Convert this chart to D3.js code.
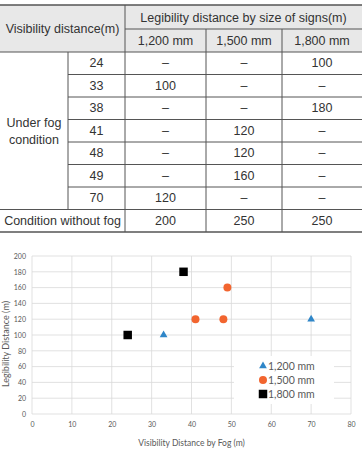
<!DOCTYPE html>
<html>
<head>
<meta charset="utf-8">
<script src="https://cdn.jsdelivr.net/npm/d3@7"></script>
<style>
    body { margin: 0; background: #fff; }
    svg { display: block; }
</style>
</head>
<body>
<div id="vis"></div>
<script>
const visibility = [24, 33, 38, 41, 48, 49, 70];
const signSizes = ['1,200 mm', '1,500 mm', '1,800 mm'];
const legib1200 = [null, 100, null, null, null, null, 120];
const legib1500 = [null, null, null, 120, 120, 160, null];
const legib1800 = [100, null, 180, null, null, null, null];
const noFog = [200, 250, 250];
const xTicks = [0, 10, 20, 30, 40, 50, 60, 70, 80];
const yTicks = [0, 20, 40, 60, 80, 100, 120, 140, 160, 180, 200];

class SignChart{
    constructor(){
        this.width = 362;
        this.height = 449;
        this.series = [legib1200, legib1500, legib1800];
        this.colors = ['#2f86c8', '#f2652f', '#000000'];

        this.svg = d3.select('#vis')
            .append('svg')
            .attr('width', this.width)
            .attr('height', this.height);
    }

    drawTable(){
        let g = this.svg.append('g').attr('id', 'tableG');
        let font = 'Liberation Sans, Arial, sans-serif';
        let lineCol = '#555';

        // column edges and row edges
        let cols = [0, 68, 125, 206, 282, 362];
        let top = 5, mid = 29, headBottom = 52, rowH = 22.5;
        let rowY = i => headBottom + i * rowH;

        g.append('rect')
            .attr('x', 0).attr('y', top)
            .attr('width', this.width).attr('height', headBottom - top)
            .attr('fill', '#e8e8e8');

        let line = (x1, y1, x2, y2, w) => g.append('line')
            .attr('x1', x1).attr('y1', y1).attr('x2', x2).attr('y2', y2)
            .attr('stroke', lineCol).attr('stroke-width', w || 1);

        line(0, top, this.width, top, 1.5);
        line(cols[2], mid, this.width, mid);
        line(0, headBottom, this.width, headBottom);
        visibility.forEach((v, i) => { if (i > 0) line(cols[1], rowY(i), this.width, rowY(i)); });
        line(0, rowY(visibility.length), this.width, rowY(visibility.length));
        line(0, rowY(visibility.length + 1), this.width, rowY(visibility.length + 1), 1.5);

        line(cols[1], headBottom, cols[1], rowY(visibility.length));
        line(cols[2], top, cols[2], rowY(visibility.length + 1));
        line(cols[3], mid, cols[3], rowY(visibility.length + 1));
        line(cols[4], mid, cols[4], rowY(visibility.length + 1));

        let text = (x, y, s) => g.append('text')
            .attr('x', x).attr('y', y)
            .attr('text-anchor', 'middle')
            .attr('dominant-baseline', 'central')
            .style('font-family', font)
            .style('font-size', '12.5px')
            .style('fill', '#333')
            .text(s);

        text((cols[0] + cols[2]) / 2, (top + headBottom) / 2, 'Visibility distance(m)');
        text((cols[2] + cols[5]) / 2, (top + mid) / 2 + 1, 'Legibility distance by size of signs(m)');
        signSizes.forEach((s, j) => text((cols[j + 2] + cols[j + 3]) / 2, (mid + headBottom) / 2, s));

        let midBlock = (rowY(0) + rowY(visibility.length)) / 2;
        text(cols[1] / 2, midBlock - 8, 'Under fog');
        text(cols[1] / 2, midBlock + 9, 'condition');

        visibility.forEach((v, i) => {
            let cy = rowY(i) + rowH / 2;
            text((cols[1] + cols[2]) / 2, cy, v);
            this.series.forEach((arr, j) => {
                text((cols[j + 2] + cols[j + 3]) / 2, cy, arr[i] == null ? '–' : arr[i]);
            });
        });

        let lastY = rowY(visibility.length) + rowH / 2;
        text((cols[0] + cols[2]) / 2, lastY, 'Condition without fog');
        noFog.forEach((v, j) => text((cols[j + 2] + cols[j + 3]) / 2, lastY, v));
    }

    drawScatter(){
        let font = 'Lato, Carlito, sans-serif';
        let x = d3.scaleLinear().domain([0, 80]).range([32, 351]);
        let y = d3.scaleLinear().domain([0, 200]).range([414, 256]);

        let g = this.svg.append('g').attr('id', 'scatterG');

        // gridlines
        g.append('g')
            .selectAll('line')
            .data(yTicks)
            .join('line')
            .attr('x1', x(0)).attr('x2', x(80))
            .attr('y1', d => y(d)).attr('y2', d => y(d))
            .attr('stroke', '#d9d9d9').attr('stroke-width', 0.8);
        g.append('g')
            .selectAll('line')
            .data(xTicks)
            .join('line')
            .attr('x1', d => x(d)).attr('x2', d => x(d))
            .attr('y1', y(0)).attr('y2', y(200))
            .attr('stroke', '#d9d9d9').attr('stroke-width', 0.8);

        // axes (labels only)
        let xAxis = g.append('g')
            .attr('transform', `translate(0,${y(0) + 4})`)
            .call(d3.axisBottom(x).tickValues(xTicks).tickSize(0).tickPadding(4));
        let yAxis = g.append('g')
            .attr('transform', `translate(${x(0) - 4},0)`)
            .call(d3.axisLeft(y).tickValues(yTicks).tickSize(0).tickPadding(2));
        [xAxis, yAxis].forEach(a => {
            a.select('.domain').remove();
            a.selectAll('text')
                .style('font-family', font)
                .style('font-size', '7px')
                .style('fill', '#595959');
        });

        g.append('text')
            .attr('x', (x(0) + x(80)) / 2)
            .attr('y', 446)
            .attr('text-anchor', 'middle')
            .style('font-family', font)
            .style('font-size', '8.5px')
            .style('fill', '#595959')
            .text('Visibility Distance by Fog (m)');
        g.append('text')
            .attr('transform', `translate(9,${(y(0) + y(200)) / 2 + 9}) rotate(-90)`)
            .attr('text-anchor', 'middle')
            .style('font-family', font)
            .style('font-size', '9px')
            .style('fill', '#595959')
            .text('Legibility Distance (m)');

        // legend box (covers gridlines)
        let legend = g.append('g').attr('id', 'legendG');
        legend.append('rect')
            .attr('x', 234).attr('y', 356)
            .attr('width', 100).attr('height', 48)
            .attr('fill', '#fff');

        let that = this;
        let points = [];
        this.series.forEach((arr, j) => {
            arr.forEach((v, i) => { if (v != null) points.push({s: j, vx: visibility[i], vy: v}); });
        });

        let symbols = [
            d3.symbol().type(d3.symbolTriangle).size(26),
            d3.symbol().type(d3.symbolCircle).size(50),
            d3.symbol().type(d3.symbolSquare).size(72)
        ];

        g.append('g')
            .attr('id', 'pointG')
            .selectAll('path')
            .data(points)
            .join('path')
            .attr('d', d => symbols[d.s]())
            .attr('transform', d => 'translate(' + x(d.vx) + ',' + y(d.vy) + ')')
            .attr('fill', d => that.colors[d.s]);

        signSizes.forEach((s, j) => {
            let ly = 366 + j * 14;
            legend.append('path')
                .attr('d', symbols[j]())
                .attr('transform', `translate(263,${ly})`)
                .attr('fill', this.colors[j]);
            legend.append('text')
                .attr('x', 268).attr('y', ly)
                .attr('dominant-baseline', 'central')
                .style('font-family', font)
                .style('font-size', '10.5px')
                .style('fill', '#595959')
                .text(s);
        });
    }
}

let chart = new SignChart();
chart.drawTable();
chart.drawScatter();
</script>
</body>
</html>
